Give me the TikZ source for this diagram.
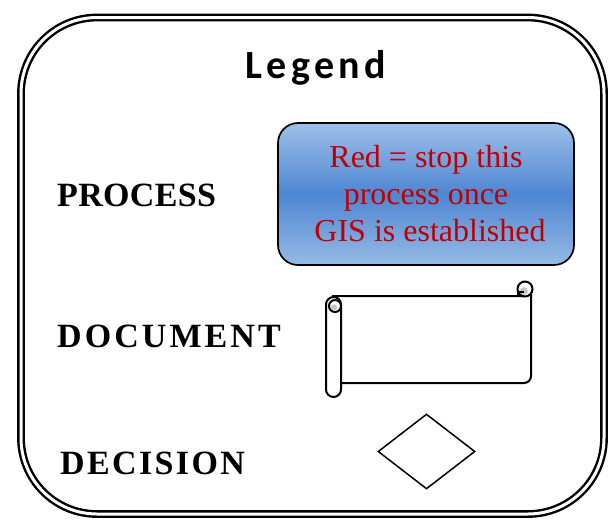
\documentclass[tikz,border=0pt]{standalone}
\usepackage{fontspec}
\setmainfont{Liberation Serif}
\newfontfamily\legendfont[LetterSpace=11]{Carlito}
\newfontfamily\labelfont{Liberation Serif}
\usetikzlibrary{shapes.geometric}
\definecolor{redtext}{RGB}{192,0,0}
\definecolor{bluetop}{RGB}{158,192,233}
\definecolor{bluemid}{RGB}{78,134,210}
\definecolor{bluebot}{RGB}{150,186,230}
\begin{document}
\begin{tikzpicture}[x=1pt,y=-1pt,
  lbl/.style={anchor=base west,inner sep=0pt,font=\labelfont\bfseries\fontsize{34}{38}\selectfont},
  redline/.style={anchor=base,inner sep=0pt,text=redtext,font=\fontsize{32}{37}\selectfont},
  shapeline/.style={draw=black,line width=2pt}]
\useasboundingbox (0,0) rectangle (614,523);
% outer frame
\draw[double=white,line width=2.4pt,double distance=3pt,rounded corners=76pt] (21,17.5) rectangle (604,514);
% title
\node (title) [anchor=base,inner sep=0pt,font=\legendfont\bfseries\fontsize{40}{44}\selectfont] at (316,78) {Legend};
% labels
\node (lproc) [lbl] at (57,206) {\addfontfeature{LetterSpace=1}PROCESS};
\node (ldoc) [lbl] at (57,347) {\addfontfeature{LetterSpace=9}DOCUMENT};
\node (ldec) [lbl] at (60,474) {\addfontfeature{LetterSpace=7}DECISION};
% process box
\node (procbox) [shapeline,line width=1.7pt,rounded corners=20pt,minimum width=296pt,minimum height=142pt,inner sep=0pt,
  top color=bluetop,bottom color=bluebot,middle color=bluemid] at (426,194) {};
\node (t1) [redline] at (426,167) {Red = stop this};
\node (t2) [redline] at (426,204) {process once};
\node (t3) [redline] at (430,241) {GIS is established};
% document scroll
\coordinate (dtl) at (333,296);
\coordinate (dtr) at (524,296);
\coordinate (drt) at (531,290);
\coordinate (drb) at (531,376);
\coordinate (dbl) at (341,383);
\draw[shapeline,fill=white] (dtl) -- (dtr) -- (drt) -- (drb) arc[start angle=0,end angle=-90,radius=7pt] -- (dbl) -- cycle;
\draw[shapeline,fill=white,rounded corners=7.5pt] (326,297) rectangle (341,397);
\node (curll) [shapeline,circle,fill=white,minimum size=12pt,inner sep=0pt] at (335,306) {};
\fill[gray!45] (334,307.5) circle[radius=3.2pt];
\node (curlr) [shapeline,circle,fill=white,minimum size=15pt,inner sep=0pt] at (525,289) {};
\fill[gray!45] (524,291) circle[radius=4pt];
\draw[line width=1.3pt] (518,296) -- (518,292) -- (524,292);
% decision
\node (dec) [shapeline,line width=1.5pt,diamond,minimum width=97pt,minimum height=75pt,inner sep=0pt,aspect=1.29] at (426.5,451.5) {};
\end{tikzpicture}
\end{document}
